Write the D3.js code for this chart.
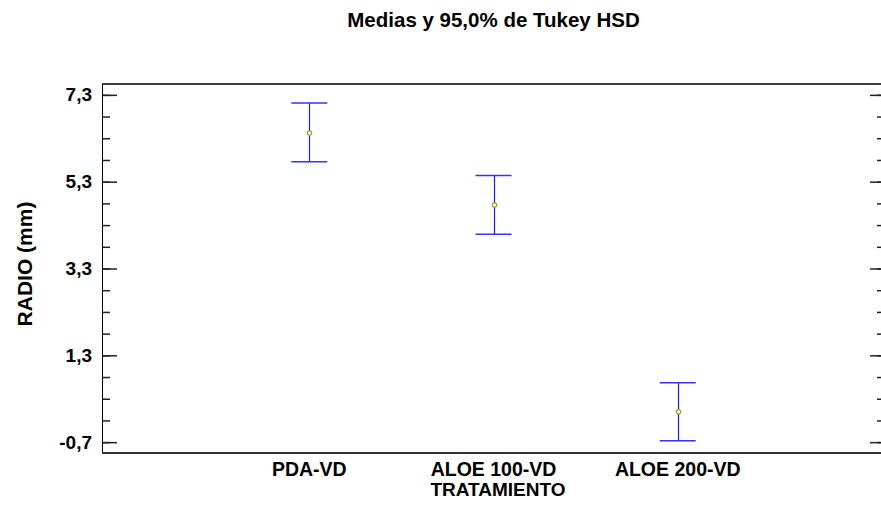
<!DOCTYPE html>
<html>
<head>
	<meta charset="utf-8">
	<title>Medias y 95,0% de Tukey HSD</title>
	<script src="https://cdn.jsdelivr.net/npm/d3@7"></script>
	<style>
		body { margin: 0; background: #fff; overflow: hidden; }
		svg { display: block; font-family: "Liberation Sans", Arial, sans-serif; }
	</style>
</head>
<body>
	<div id="chart"></div>
	<script>

	// data
	const categories = ["PDA-VD", "ALOE 100-VD", "ALOE 200-VD"];
	const means      = [6.42, 4.76, 0.00];
	const lower      = [5.76, 4.09, -0.67];
	const upper      = [7.11, 5.44, 0.67];
	const yTicks     = [-0.7, 1.3, 3.3, 5.3, 7.3];
	const yMinor     = [-0.7, -0.2, 0.3, 0.8, 1.3, 1.8, 2.3, 2.8, 3.3, 3.8, 4.3, 4.8, 5.3, 5.8, 6.3, 6.8, 7.3];

	const width  = 881;
	const height = 505;
	const margin = {top: 84, right: -4, bottom: 52, left: 102};

	const svg = d3.select("#chart")
		.append("svg")
		.attr("width", width)
		.attr("height", height);

	const x = d3.scaleLinear()
		.domain([-1.125, categories.length - 1 + 1.125])
		.range([margin.left, width - margin.right]);

	const y = d3.scaleLinear()
		.domain([-0.95, 7.55])
		.range([height - margin.bottom, margin.top]);

	const fmt = d => d3.format(".1f")(d).replace(".", ",").replace("−", "-");

	// minor ticks, left and right
	svg.append("g")
		.attr("transform", `translate(${margin.left},0)`)
		.call(d3.axisLeft(y).tickValues(yMinor).tickSizeInner(-8).tickSizeOuter(0).tickFormat(() => ""))
		.call(g => g.select(".domain").remove());
	svg.append("g")
		.attr("transform", `translate(${width - margin.right},0)`)
		.call(d3.axisLeft(y).tickValues(yMinor).tickSizeInner(8).tickSizeOuter(0).tickFormat(() => ""))
		.call(g => g.select(".domain").remove());

	// major ticks with labels
	svg.append("g")
		.attr("transform", `translate(${margin.left},0)`)
		.call(d3.axisLeft(y).tickValues(yTicks).tickSizeInner(-15).tickSizeOuter(0).tickPadding(10).tickFormat(fmt))
		.call(g => g.select(".domain").remove())
		.call(g => g.selectAll("text")
			.attr("font-size", 19)
			.attr("font-weight", "bold")
			.attr("fill", "#000"));
	svg.append("g")
		.attr("transform", `translate(${width - margin.right},0)`)
		.call(d3.axisLeft(y).tickValues(yTicks).tickSizeInner(15).tickSizeOuter(0).tickFormat(() => ""))
		.call(g => g.select(".domain").remove());

	svg.selectAll(".tick line")
		.attr("stroke", "#222")
		.attr("stroke-width", 1.5);

	// frame (right edge falls outside the picture)
	const [x0, x1] = x.range();
	const [yb, yt] = y.range();
	svg.append("line")
		.attr("x1", x0).attr("x2", x1).attr("y1", yt).attr("y2", yt)
		.attr("stroke", "#000").attr("stroke-width", 1.5);
	svg.append("line")
		.attr("x1", x0 + 0.5).attr("x2", x0 + 0.5).attr("y1", yt).attr("y2", yb)
		.attr("stroke", "#000").attr("stroke-width", 1);
	svg.append("line")
		.attr("x1", x0).attr("x2", x1).attr("y1", yb).attr("y2", yb)
		.attr("stroke", "#333").attr("stroke-width", 2);

	// intervals
	const cap = 18;
	const bars = svg.append("g")
		.selectAll("g")
		.data(categories)
		.join("g");

	bars.append("line")
		.attr("x1", (d, i) => Math.round(x(i)) + 0.5)
		.attr("x2", (d, i) => Math.round(x(i)) + 0.5)
		.attr("y1", (d, i) => y(upper[i]))
		.attr("y2", (d, i) => y(lower[i]))
		.attr("stroke", "#1a1aff")
		.attr("stroke-width", 1.2);

	bars.append("line")
		.attr("x1", (d, i) => x(i) - cap)
		.attr("x2", (d, i) => x(i) + cap)
		.attr("y1", (d, i) => y(upper[i]))
		.attr("y2", (d, i) => y(upper[i]))
		.attr("stroke", "#3333ff")
		.attr("stroke-width", 1.5);

	bars.append("line")
		.attr("x1", (d, i) => x(i) - cap)
		.attr("x2", (d, i) => x(i) + cap)
		.attr("y1", (d, i) => y(lower[i]))
		.attr("y2", (d, i) => y(lower[i]))
		.attr("stroke", "#3333ff")
		.attr("stroke-width", 1.5);

	bars.append("circle")
		.attr("cx", (d, i) => Math.round(x(i)) + 0.5)
		.attr("cy", (d, i) => y(means[i]))
		.attr("r", 2.2)
		.attr("fill", "#fff")
		.attr("stroke", "#a89a20")
		.attr("stroke-width", 1.2);

	// category labels
	svg.append("g")
		.selectAll("text")
		.data(categories)
		.join("text")
		.attr("x", (d, i) => x(i))
		.attr("y", 476)
		.attr("text-anchor", "middle")
		.attr("font-size", 19.5)
		.attr("font-weight", "bold")
		.text(d => d);

	// titles
	svg.append("text")
		.attr("x", 498)
		.attr("y", 496)
		.attr("text-anchor", "middle")
		.attr("font-size", 19)
		.attr("font-weight", "bold")
		.text("TRATAMIENTO");

	svg.append("text")
		.attr("transform", `translate(32,264) rotate(-90)`)
		.attr("text-anchor", "middle")
		.attr("font-size", 21)
		.attr("font-weight", "bold")
		.text("RADIO (mm)");

	svg.append("text")
		.attr("x", (x0 + x1) / 2)
		.attr("y", 27)
		.attr("text-anchor", "middle")
		.attr("font-size", 20.5)
		.attr("font-weight", "bold")
		.text("Medias y 95,0% de Tukey HSD");

	</script>
</body>
</html>
